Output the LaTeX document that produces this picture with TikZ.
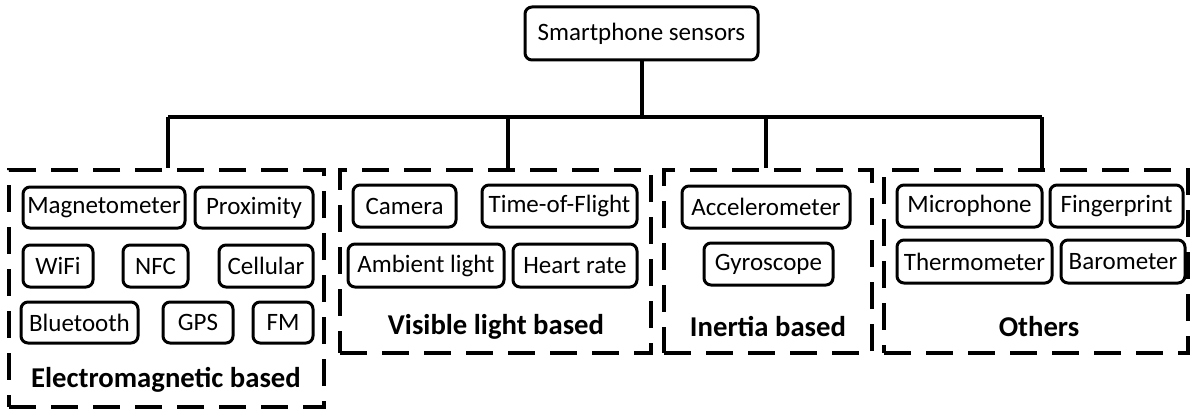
\documentclass[tikz,border=0pt]{standalone}
\usepackage{fontspec}
\setmainfont{Carlito}
\begin{document}
\begin{tikzpicture}[x=1pt,y=-1pt,
  sbox/.style={draw, line width=3pt, rounded corners=7pt, inner sep=0pt, align=center,
    font=\fontsize{25}{29}\selectfont},
  grp/.style={draw, line width=3.5pt, dash pattern=on 27pt off 15pt, inner sep=0pt},
  lab/.style={inner sep=0pt, font=\fontsize{28.7}{32}\selectfont\bfseries},
  conn/.style={line width=4pt}]
\useasboundingbox (0,0) rectangle (1192,412);
% top
\node[sbox, minimum width=233pt, minimum height=53pt] (top) at (641.5,33.5) {Smartphone sensors};
% groups
\node[grp, minimum width=315pt, minimum height=237pt] (g1) at (166.5,288.5) {};
\node[grp, minimum width=311pt, minimum height=183pt] (g2) at (495.5,261.5) {};
\node[grp, minimum width=208pt, minimum height=183pt] (g3) at (768,261.5) {};
\node[grp, minimum width=304pt, minimum height=183pt] (g4) at (1036,261.5) {};
% connectors
\coordinate (d1) at (168,117);
\coordinate (d2) at (508,117);
\coordinate (d3) at (766,117);
\coordinate (d4) at (1042,117);
\draw[conn] (top.south) -- (top.south |- d1);
\draw[conn] (d1) -- (d4);
\draw[conn] (d1) -- (d1 |- g1.north);
\draw[conn] (d2) -- (d2 |- g2.north);
\draw[conn] (d3) -- (d3 |- g3.north);
\draw[conn] (d4) -- (d4 |- g4.north);
% group 1
\node[sbox, minimum width=162pt, minimum height=41pt] (mag) at (104,207.5) {Magnetometer};
\node[sbox, minimum width=118pt, minimum height=41pt] (prox) at (254,207.5) {Proximity};
\node[sbox, minimum width=70pt, minimum height=42pt] (wifi) at (58,266) {WiFi};
\node[sbox, minimum width=65pt, minimum height=42pt] (nfc) at (155.5,266) {NFC};
\node[sbox, minimum width=94pt, minimum height=42pt] (cell) at (266,266) {Cellular};
\node[sbox, minimum width=117pt, minimum height=41pt] (blue) at (79.5,322.5) {Bluetooth};
\node[sbox, minimum width=70pt, minimum height=41pt] (gps) at (198,322.5) {GPS};
\node[sbox, minimum width=60pt, minimum height=41pt] (fm) at (283,322.5) {FM};
\node[lab] (l1) at (166,380) {Electromagnetic based};
% group 2
\node[sbox, minimum width=103pt, minimum height=42pt] (cam) at (404.5,206) {Camera};
\node[sbox, minimum width=155pt, minimum height=42pt] (tof) at (559.5,206) {Time-of-Flight};
\node[sbox, minimum width=156pt, minimum height=43pt] (amb) at (426,265.5) {Ambient light};
\node[sbox, minimum width=124pt, minimum height=43pt] (heart) at (575,265.5) {Heart rate};
\node[lab] (l2) at (496,327) {Visible light based};
% group 3
\node[sbox, minimum width=168pt, minimum height=42pt] (acc) at (766,207) {Accelerometer};
\node[sbox, minimum width=129pt, minimum height=42pt] (gyro) at (768.5,264) {Gyroscope};
\node[lab] (l3) at (768,327) {Inertia based};
% group 4
\node[sbox, minimum width=145pt, minimum height=42pt] (mic) at (969.5,206) {Microphone};
\node[sbox, minimum width=133pt, minimum height=42pt] (fing) at (1116.5,206) {Fingerprint};
\node[sbox, minimum width=155pt, minimum height=43pt] (therm) at (974.5,261.5) {Thermometer};
\node[sbox, minimum width=124pt, minimum height=43pt] (baro) at (1123,261.5) {Barometer};
\node[lab] (l4) at (1039,327) {Others};
\end{tikzpicture}
\end{document}
